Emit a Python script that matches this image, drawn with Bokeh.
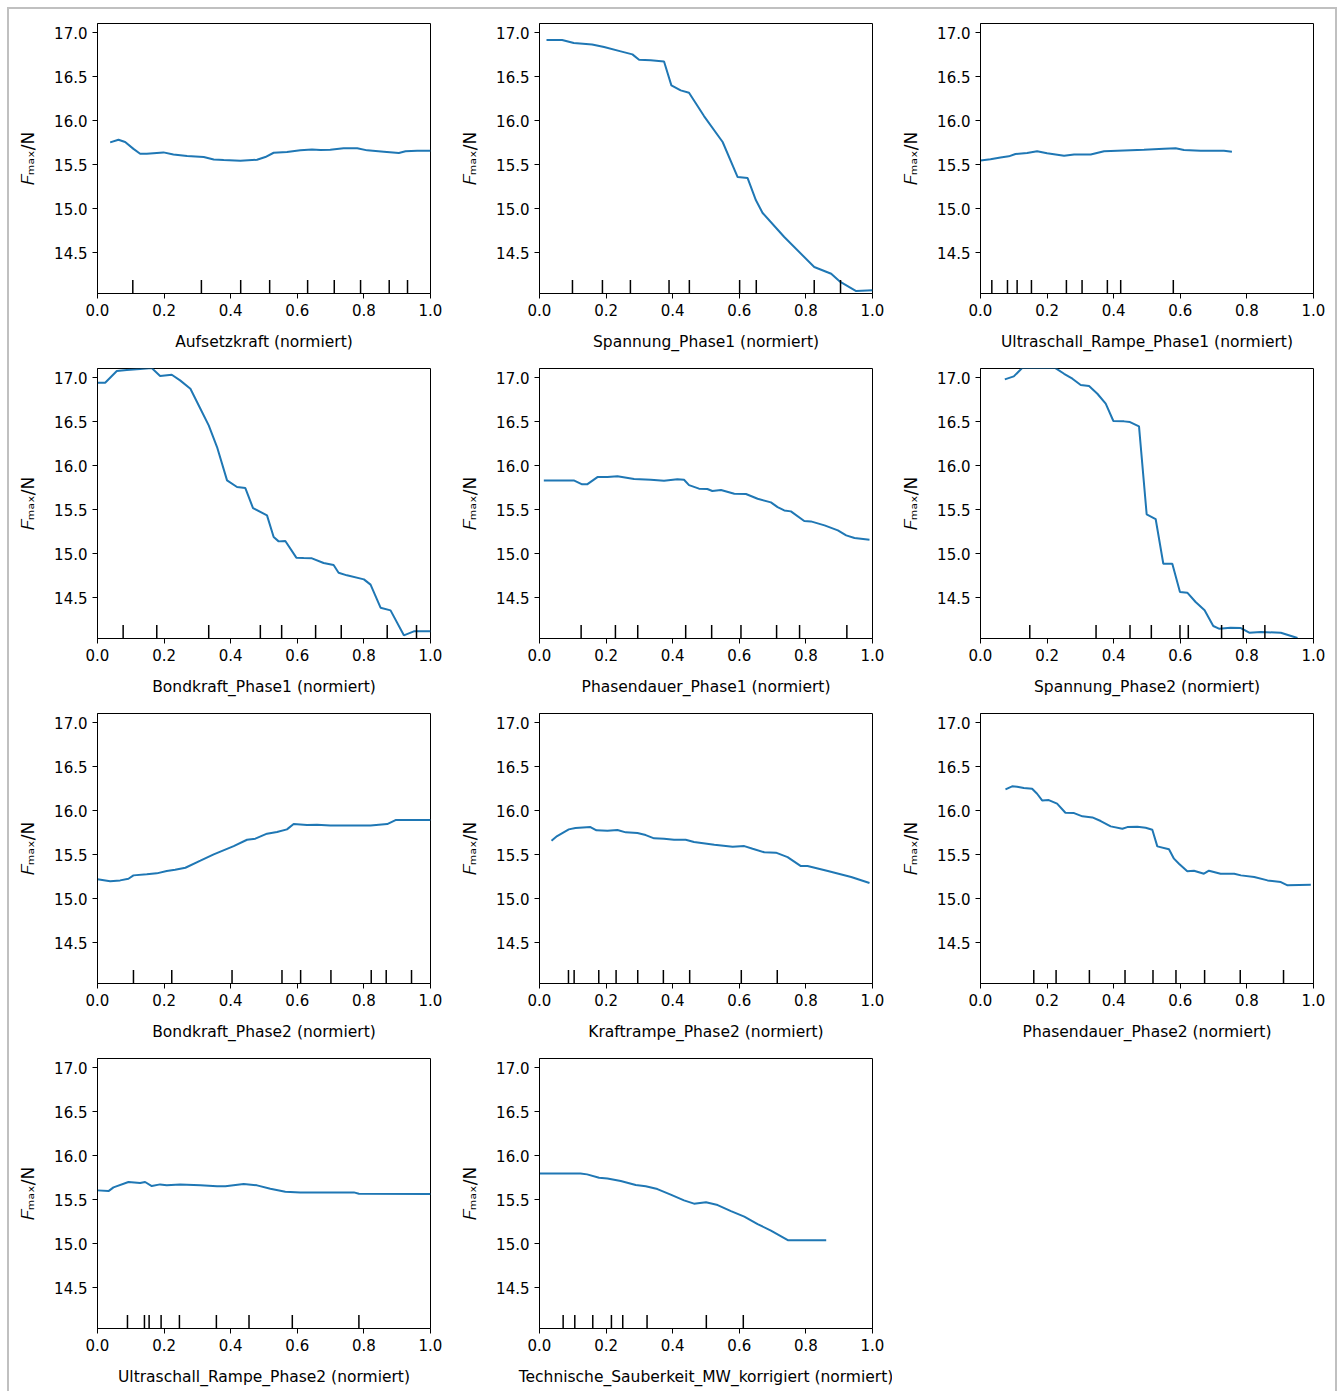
from bokeh.plotting import figure
from bokeh.layouts import gridplot, column
from bokeh.models import Range1d, FixedTicker
from bokeh.embed import file_html
from bokeh.resources import INLINE

FONT = "DejaVu Sans"
Y_LABEL = "\U0001D439\u2098\u2090\u2093/N"
y_limits = [14.036, 17.105]
x_ticks = [0.0, 0.2, 0.4, 0.6, 0.8, 1.0]
x_tick_labels = ["0.0", "0.2", "0.4", "0.6", "0.8", "1.0"]
y_ticks = [14.5, 15.0, 15.5, 16.0, 16.5, 17.0]
y_tick_labels = ["14.5", "15.0", "15.5", "16.0", "16.5", "17.0"]
decile_frac = 0.05

features = [
    "Aufsetzkraft", "Spannung_Phase1", "Ultraschall_Rampe_Phase1",
    "Bondkraft_Phase1", "Phasendauer_Phase1", "Spannung_Phase2",
    "Bondkraft_Phase2", "Kraftrampe_Phase2", "Phasendauer_Phase2",
    "Ultraschall_Rampe_Phase2", "Technische_Sauberkeit_MW_korrigiert",
]

aufsetzkraft_x = [0.038, 0.063, 0.083, 0.108, 0.128, 0.148, 0.198, 0.228, 0.269, 0.319, 0.349, 0.379, 0.429, 0.479, 0.504, 0.529, 0.569, 0.609, 0.644, 0.669, 0.699, 0.739, 0.780, 0.810, 0.860, 0.905, 0.925, 0.960, 1.0]
aufsetzkraft_y = [15.754, 15.784, 15.758, 15.68, 15.625, 15.625, 15.64, 15.617, 15.598, 15.587, 15.56, 15.553, 15.545, 15.557, 15.587, 15.636, 15.644, 15.663, 15.674, 15.667, 15.670, 15.686, 15.686, 15.663, 15.648, 15.633, 15.652, 15.659, 15.659]
aufsetzkraft_dec = [0.106, 0.312, 0.430, 0.517, 0.631, 0.711, 0.790, 0.876, 0.931]

spannung1_x = [0.021, 0.068, 0.103, 0.158, 0.194, 0.244, 0.279, 0.299, 0.334, 0.374, 0.396, 0.424, 0.449, 0.494, 0.550, 0.595, 0.625, 0.650, 0.670, 0.735, 0.825, 0.876, 0.901, 0.951, 1.0]
spannung1_y = [16.917, 16.917, 16.883, 16.867, 16.837, 16.788, 16.754, 16.693, 16.686, 16.674, 16.402, 16.345, 16.318, 16.053, 15.758, 15.36, 15.348, 15.095, 14.951, 14.678, 14.337, 14.261, 14.174, 14.064, 14.072]
spannung1_dec = [0.099, 0.189, 0.273, 0.389, 0.450, 0.601, 0.651, 0.825, 0.904]

ultraschall1_x = [0.0, 0.030, 0.060, 0.085, 0.105, 0.140, 0.170, 0.200, 0.251, 0.281, 0.331, 0.371, 0.411, 0.491, 0.551, 0.586, 0.611, 0.661, 0.731, 0.755]
ultraschall1_y = [15.549, 15.561, 15.583, 15.595, 15.621, 15.633, 15.652, 15.629, 15.602, 15.617, 15.617, 15.652, 15.659, 15.670, 15.682, 15.686, 15.667, 15.659, 15.659, 15.648]
ultraschall1_dec = [0.034, 0.081, 0.110, 0.153, 0.258, 0.305, 0.381, 0.421, 0.579]

bondkraft1_x = [0.0, 0.023, 0.058, 0.088, 0.128, 0.163, 0.188, 0.223, 0.248, 0.279, 0.309, 0.334, 0.359, 0.389, 0.419, 0.444, 0.467, 0.509, 0.529, 0.544, 0.564, 0.597, 0.619, 0.644, 0.679, 0.709, 0.724, 0.749, 0.800, 0.820, 0.850, 0.880, 0.920, 0.950, 1.0]
bondkraft1_y = [16.943, 16.943, 17.076, 17.087, 17.098, 17.11, 17.019, 17.034, 16.970, 16.875, 16.648, 16.458, 16.212, 15.833, 15.758, 15.746, 15.519, 15.436, 15.189, 15.14, 15.144, 14.955, 14.951, 14.947, 14.894, 14.871, 14.784, 14.754, 14.708, 14.648, 14.386, 14.356, 14.072, 14.117, 14.117]
bondkraft1_dec = [0.077, 0.178, 0.334, 0.489, 0.553, 0.655, 0.732, 0.870, 0.958]

phasendauer1_x = [0.013, 0.103, 0.128, 0.143, 0.174, 0.204, 0.234, 0.284, 0.334, 0.374, 0.414, 0.434, 0.449, 0.479, 0.504, 0.519, 0.545, 0.585, 0.620, 0.655, 0.695, 0.715, 0.735, 0.755, 0.795, 0.815, 0.856, 0.896, 0.921, 0.946, 0.991]
phasendauer1_y = [15.833, 15.833, 15.788, 15.788, 15.871, 15.871, 15.879, 15.848, 15.841, 15.830, 15.845, 15.841, 15.780, 15.739, 15.735, 15.712, 15.723, 15.682, 15.678, 15.625, 15.583, 15.530, 15.492, 15.481, 15.371, 15.367, 15.322, 15.265, 15.208, 15.178, 15.159]
phasendauer1_dec = [0.125, 0.228, 0.295, 0.439, 0.517, 0.605, 0.712, 0.781, 0.923]

spannung2_x = [0.073, 0.100, 0.125, 0.225, 0.251, 0.276, 0.301, 0.326, 0.351, 0.376, 0.399, 0.431, 0.449, 0.476, 0.499, 0.526, 0.549, 0.576, 0.599, 0.621, 0.646, 0.673, 0.699, 0.716, 0.751, 0.782, 0.807, 0.842, 0.902, 0.952]
spannung2_y = [16.981, 17.015, 17.11, 17.11, 17.045, 16.989, 16.917, 16.905, 16.818, 16.705, 16.508, 16.504, 16.496, 16.447, 15.447, 15.394, 14.886, 14.886, 14.564, 14.557, 14.451, 14.356, 14.178, 14.148, 14.159, 14.155, 14.102, 14.110, 14.102, 14.042]
spannung2_dec = [0.148, 0.347, 0.449, 0.513, 0.599, 0.624, 0.724, 0.789, 0.854]

bondkraft2_x = [0.0, 0.038, 0.068, 0.093, 0.108, 0.148, 0.178, 0.208, 0.233, 0.264, 0.309, 0.349, 0.409, 0.449, 0.474, 0.509, 0.539, 0.569, 0.589, 0.629, 0.659, 0.699, 0.820, 0.870, 0.895, 1.0]
bondkraft2_y = [15.220, 15.197, 15.208, 15.227, 15.265, 15.277, 15.288, 15.314, 15.330, 15.352, 15.432, 15.504, 15.598, 15.670, 15.682, 15.739, 15.758, 15.788, 15.848, 15.837, 15.841, 15.833, 15.833, 15.848, 15.894, 15.894]
bondkraft2_dec = [0.108, 0.223, 0.404, 0.554, 0.610, 0.701, 0.822, 0.867, 0.943]

kraftrampe2_x = [0.036, 0.053, 0.088, 0.108, 0.153, 0.171, 0.204, 0.234, 0.259, 0.294, 0.319, 0.344, 0.374, 0.404, 0.439, 0.464, 0.525, 0.580, 0.615, 0.640, 0.675, 0.710, 0.745, 0.785, 0.805, 0.866, 0.936, 0.991]
kraftrampe2_y = [15.659, 15.712, 15.788, 15.803, 15.814, 15.777, 15.773, 15.780, 15.754, 15.746, 15.723, 15.686, 15.682, 15.670, 15.670, 15.644, 15.614, 15.591, 15.598, 15.568, 15.527, 15.523, 15.473, 15.371, 15.371, 15.314, 15.246, 15.178]
kraftrampe2_dec = [0.087, 0.104, 0.178, 0.230, 0.295, 0.372, 0.451, 0.606, 0.714]

phasendauer2_x = [0.075, 0.095, 0.110, 0.130, 0.155, 0.170, 0.185, 0.205, 0.230, 0.255, 0.281, 0.306, 0.336, 0.361, 0.391, 0.426, 0.441, 0.471, 0.496, 0.516, 0.531, 0.566, 0.581, 0.596, 0.621, 0.641, 0.671, 0.686, 0.721, 0.762, 0.782, 0.822, 0.862, 0.902, 0.922, 0.992]
phasendauer2_y = [16.242, 16.277, 16.273, 16.258, 16.250, 16.193, 16.117, 16.121, 16.080, 15.977, 15.973, 15.936, 15.924, 15.883, 15.822, 15.795, 15.814, 15.818, 15.807, 15.784, 15.595, 15.561, 15.455, 15.398, 15.311, 15.318, 15.284, 15.318, 15.284, 15.284, 15.265, 15.246, 15.208, 15.189, 15.152, 15.159]
phasendauer2_dec = [0.160, 0.227, 0.327, 0.434, 0.518, 0.587, 0.673, 0.780, 0.910]

ultraschall2_x = [0.0, 0.033, 0.048, 0.093, 0.128, 0.143, 0.163, 0.188, 0.208, 0.248, 0.309, 0.359, 0.384, 0.439, 0.479, 0.519, 0.564, 0.609, 0.770, 0.785, 1.0]
ultraschall2_y = [15.606, 15.598, 15.640, 15.701, 15.689, 15.701, 15.655, 15.674, 15.663, 15.674, 15.663, 15.652, 15.652, 15.678, 15.663, 15.625, 15.591, 15.583, 15.583, 15.568, 15.564]
ultraschall2_dec = [0.090, 0.141, 0.155, 0.191, 0.246, 0.357, 0.455, 0.585, 0.785]

sauberkeit_x = [0.0, 0.123, 0.143, 0.179, 0.204, 0.244, 0.289, 0.319, 0.354, 0.394, 0.434, 0.464, 0.500, 0.535, 0.575, 0.615, 0.655, 0.695, 0.747, 0.861]
sauberkeit_y = [15.799, 15.799, 15.788, 15.750, 15.742, 15.712, 15.667, 15.652, 15.621, 15.557, 15.492, 15.455, 15.470, 15.439, 15.371, 15.307, 15.223, 15.148, 15.038, 15.038]
sauberkeit_dec = [0.071, 0.106, 0.160, 0.216, 0.250, 0.323, 0.501, 0.612]

series = [
    (aufsetzkraft_x, aufsetzkraft_y, aufsetzkraft_dec),
    (spannung1_x, spannung1_y, spannung1_dec),
    (ultraschall1_x, ultraschall1_y, ultraschall1_dec),
    (bondkraft1_x, bondkraft1_y, bondkraft1_dec),
    (phasendauer1_x, phasendauer1_y, phasendauer1_dec),
    (spannung2_x, spannung2_y, spannung2_dec),
    (bondkraft2_x, bondkraft2_y, bondkraft2_dec),
    (kraftrampe2_x, kraftrampe2_y, kraftrampe2_dec),
    (phasendauer2_x, phasendauer2_y, phasendauer2_dec),
    (ultraschall2_x, ultraschall2_y, ultraschall2_dec),
    (sauberkeit_x, sauberkeit_y, sauberkeit_dec),
]

COL_W = [442, 441, 443]
ROW_H = [345, 345, 345, 360]
LEFT = 88
TOP = 14
FRAME_W = 333
FRAME_H = 270


def make_panel(i):
    name = features[i]
    xs, ys, dec = series[i]
    r, c = divmod(i, 3)
    w, h = COL_W[c], ROW_H[r]
    p = figure(width=w, height=h, output_backend="svg", toolbar_location=None,
               x_range=Range1d(0, 1), y_range=Range1d(y_limits[0], y_limits[1]),
               min_border_left=LEFT, min_border_right=w - LEFT - FRAME_W,
               min_border_top=TOP, min_border_bottom=h - TOP - FRAME_H)
    p.line(xs, ys, line_color="#1f77b4", line_width=2)
    y0 = y_limits[0]
    y1 = y0 + decile_frac * (y_limits[1] - y_limits[0])
    p.segment(x0=dec, y0=[y0] * len(dec), x1=dec, y1=[y1] * len(dec),
              line_color="black", line_width=1.5)
    p.xgrid.visible = False
    p.ygrid.visible = False
    p.outline_line_color = "black"
    p.outline_line_width = 1
    p.outline_line_alpha = 1
    p.background_fill_color = "white"
    p.border_fill_color = "white"
    p.xaxis.ticker = FixedTicker(ticks=x_ticks)
    p.xaxis.major_label_overrides = dict(zip(x_ticks, x_tick_labels))
    p.yaxis.ticker = FixedTicker(ticks=y_ticks)
    p.yaxis.major_label_overrides = dict(zip(y_ticks, y_tick_labels))
    p.xaxis.axis_label = name + " (normiert)"
    p.yaxis.axis_label = Y_LABEL
    for ax in (p.xaxis[0], p.yaxis[0]):
        ax.minor_tick_line_color = None
        ax.major_tick_out = 5
        ax.major_tick_in = 0
        ax.major_tick_line_color = "black"
        ax.axis_line_color = "black"
        ax.major_label_text_font = FONT
        ax.major_label_text_font_size = "15px"
        ax.major_label_text_color = "black"
        ax.axis_label_text_font = FONT
        ax.axis_label_text_font_size = "15.5px"
        ax.axis_label_text_font_style = "normal"
        ax.axis_label_text_color = "black"
        ax.major_label_standoff = 5
    p.yaxis.axis_label_text_font_size = "17px"
    p.xaxis.axis_label_standoff = 14
    p.yaxis.axis_label_standoff = 13
    return p


figs = [make_panel(i) for i in range(len(features))]
rows = [figs[0:3], figs[3:6], figs[6:9], figs[9:11] + [None]]
grid = gridplot(rows, toolbar_location=None)
root = column(grid, styles={"border": "2px solid #c0c0c0"}, margin=(7, 0, 0, 7))

open("out.html", "w").write(file_html(root, INLINE))
